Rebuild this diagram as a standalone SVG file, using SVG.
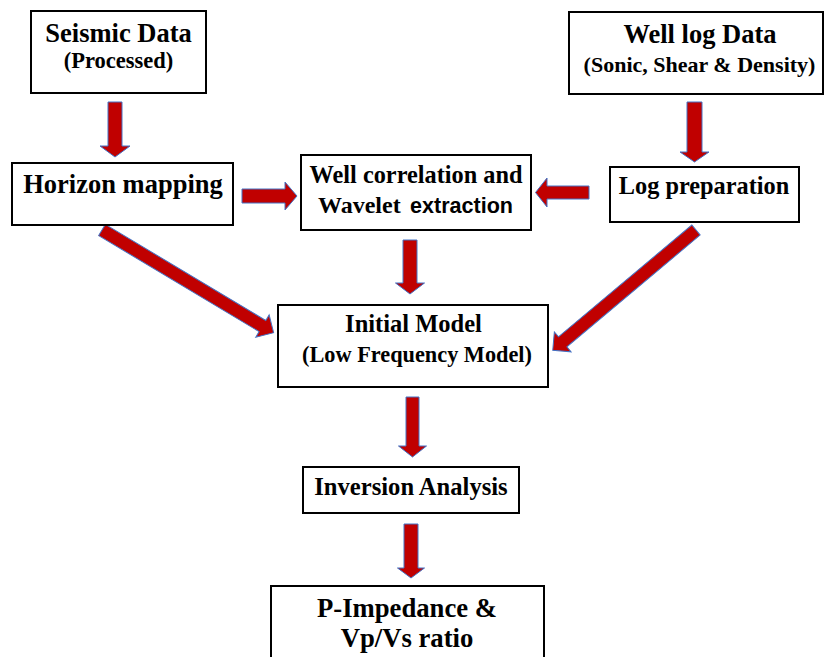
<svg xmlns="http://www.w3.org/2000/svg" width="825" height="657" viewBox="0 0 825 657">
<style>
.box{fill:#fff;stroke:#000;stroke-width:2}
.t{font-family:"Liberation Serif","Times New Roman",serif;font-weight:bold;fill:#000;text-anchor:middle}
.s{font-family:"Liberation Sans",Arial,sans-serif;font-weight:bold;fill:#000}
.arr{fill:#C00000;stroke:#4472C4;stroke-width:1;stroke-linejoin:miter}
</style>
<rect width="825" height="657" fill="#fff"/>
<g id="connectors">
<polygon class="arr" transform="translate(115,102) rotate(90)" points="0,-7 44,-7 44,-15 55,0 44,15 44,7 0,7"/>
<polygon class="arr" transform="translate(694.5,102) rotate(90)" points="0,-7.5 50,-7.5 50,-14.5 60,0 50,14.5 50,7.5 0,7.5"/>
<polygon class="arr" transform="translate(242,196)" points="0,-7 43,-7 43,-14 55,0 43,14 43,7 0,7"/>
<polygon class="arr" transform="translate(589,192.5) rotate(180)" points="0,-6.5 42,-6.5 42,-14.5 53.5,0 42,14.5 42,6.5 0,6.5"/>
<polygon class="arr" transform="translate(410,240) rotate(90)" points="0,-7 43,-7 43,-14.5 54,0 43,14.5 43,7 0,7"/>
<polygon class="arr" transform="translate(412.5,397) rotate(90)" points="0,-6.5 49,-6.5 49,-14 60,0 49,14 49,6.5 0,6.5"/>
<polygon class="arr" transform="translate(411,524) rotate(90)" points="0,-7 44,-7 44,-13.5 54,0 44,13.5 44,7 0,7"/>
<polygon class="arr" transform="translate(102,230) rotate(30.9)" points="0,-6.5 187,-6.5 187,-13 200,0 187,13 187,6.5 0,6.5"/>
<polygon class="arr" transform="translate(696,230) rotate(140)" points="0,-6.5 174,-6.5 174,-13 187,0 174,13 174,6.5 0,6.5"/>
</g>
<g id="seismic">
<rect class="box" x="31" y="11" width="175" height="82"/>
<text class="t" font-family="Liberation Serif, Times New Roman, serif" x="118.5" y="42" font-size="26.5">Seismic Data</text>
<text class="t" font-family="Liberation Serif, Times New Roman, serif" x="118.5" y="68" font-size="22.5">(Processed)</text>
</g>
<g id="welllog">
<rect class="box" x="569" y="12" width="254" height="82"/>
<text class="t" font-family="Liberation Serif, Times New Roman, serif" x="700" y="43" font-size="26.5">Well log Data</text>
<text class="t" font-family="Liberation Serif, Times New Roman, serif" x="699.5" y="72" font-size="22">(Sonic, Shear &amp; Density)</text>
</g>
<g id="horizon">
<rect class="box" x="12" y="163" width="221" height="62"/>
<text class="t" font-family="Liberation Serif, Times New Roman, serif" x="123" y="193" font-size="26.5">Horizon mapping</text>
</g>
<g id="wellcorr">
<rect class="box" x="301" y="155" width="230" height="75"/>
<text class="t" font-family="Liberation Serif, Times New Roman, serif" x="416" y="183" font-size="24.3">Well correlation and</text>
<text x="318" y="213"><tspan class="t" font-family="Liberation Serif, Times New Roman, serif" style="text-anchor:start" font-size="24">Wavelet </tspan><tspan class="s" font-family="Liberation Sans, Arial, sans-serif" x="410" font-size="21.5" textLength="103" lengthAdjust="spacingAndGlyphs">extraction</tspan></text>
</g>
<g id="logprep">
<rect class="box" x="610" y="167" width="189" height="55"/>
<text class="t" font-family="Liberation Serif, Times New Roman, serif" x="704" y="194" font-size="24.3">Log preparation</text>
</g>
<g id="initial">
<rect class="box" x="278" y="305" width="270" height="82"/>
<text class="t" font-family="Liberation Serif, Times New Roman, serif" x="413.5" y="332" font-size="24.5">Initial Model</text>
<text class="t" font-family="Liberation Serif, Times New Roman, serif" x="417" y="362" font-size="22.3">(Low Frequency Model)</text>
</g>
<g id="inversion">
<rect class="box" x="303" y="467" width="216" height="46"/>
<text class="t" font-family="Liberation Serif, Times New Roman, serif" x="411" y="495" font-size="24.6">Inversion Analysis</text>
</g>
<g id="pimpedance">
<rect class="box" x="271" y="586" width="273" height="90"/>
<text class="t" font-family="Liberation Serif, Times New Roman, serif" x="407" y="617" font-size="26.7">P-Impedance &amp;</text>
<text class="t" font-family="Liberation Serif, Times New Roman, serif" x="407" y="647" font-size="26.7">Vp/Vs ratio</text>
</g>
</svg>
